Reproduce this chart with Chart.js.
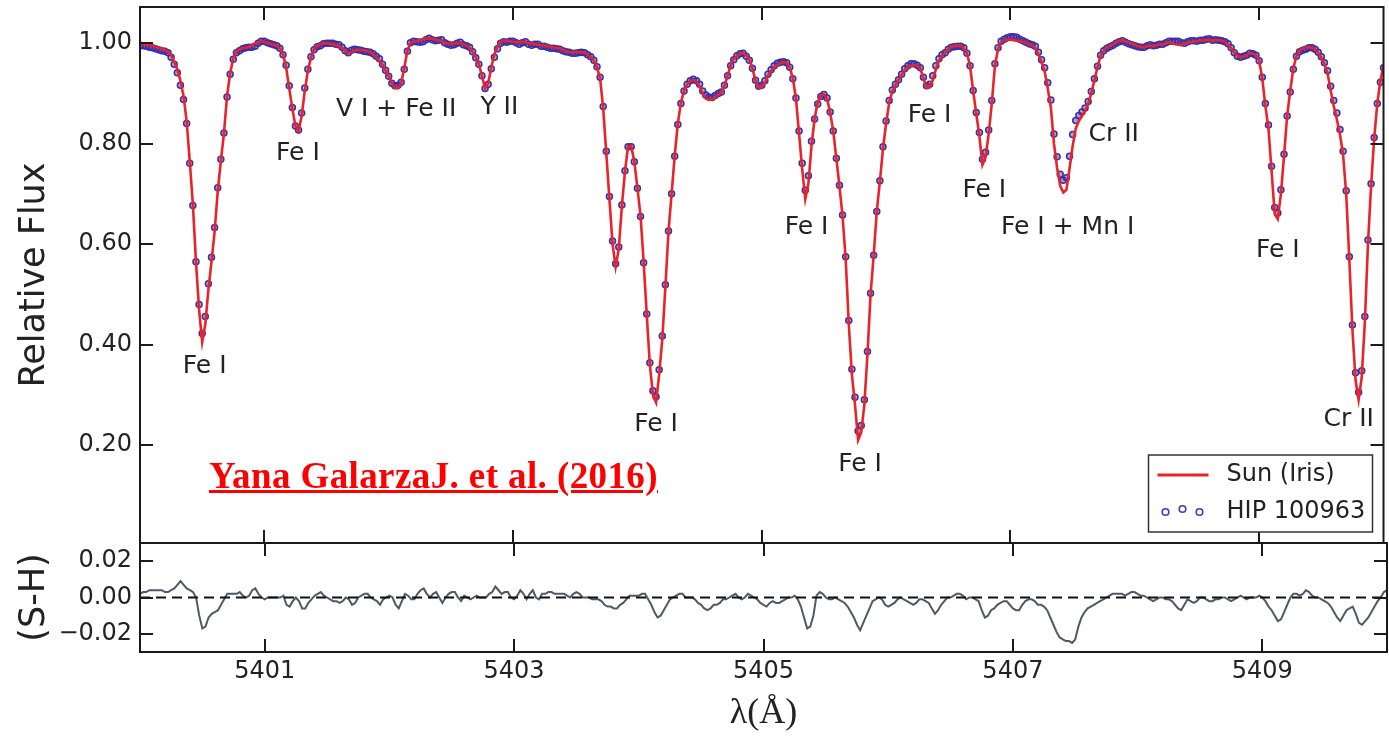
<!DOCTYPE html>
<html><head><meta charset="utf-8">
<script src="https://cdn.jsdelivr.net/npm/chart.js@4.4.1/dist/chart.umd.min.js"></script>
<style>
html,body{margin:0;padding:0;background:#fff;}
#wrap{position:relative;width:1389px;height:739px;overflow:hidden;background:#fff;}
canvas{position:absolute;left:0;top:0;}
#credit{position:absolute;left:209px;top:457px;font:bold 37px "Liberation Serif",serif;line-height:1;color:#ff0000;text-decoration:underline;white-space:nowrap;letter-spacing:0.4px;}
</style></head>
<body><div id="wrap">
<canvas id="topc" width="1389" height="739"></canvas>
<canvas id="botc" width="1389" height="739"></canvas>
<div id="credit">Yana GalarzaJ. et al. (2016)</div>
</div>
<script>
// Sampling grid of the spectrum (Angstrom)
const LAMBDA_START = 5400.0;
const LAMBDA_STEP = 0.025;

// Sun (Iris) relative flux, one value per grid step
const SUN_FLUX = [
.998,.998,.997,.996,.995,.993,.991,.989,.987,.984,.976,.963,.948,.925,.895,.845,.765,.68,.565,.47,
.405,.44,.51,.565,.625,.705,.765,.82,.895,.94,.97,.983,.988,.99,.991,.993,.996,.999,1.002,1.004,
1.003,1.001,.999,.997,.995,.99,.978,.952,.91,.87,.835,.825,.855,.905,.945,.972,.988,.995,.998,1.0,
1.0,.999,.998,.996,.994,.99,.985,.98,.982,.985,.987,.987,.986,.985,.982,.978,.972,.965,.957,.946,
.935,.92,.911,.91,.92,.95,.985,1.0,1.003,1.005,1.006,1.008,1.009,1.01,1.009,1.008,1.006,1.004,1.001,1.0,
.999,1.0,1.0,1.0,.998,.995,.991,.983,.972,.958,.935,.91,.92,.952,.978,.993,1.002,1.006,1.005,1.004,
1.003,1.002,1.002,1.003,1.002,1.0,1.0,.998,.997,.996,.996,.995,.993,.992,.991,.99,.987,.984,.982,.982,
.983,.983,.982,.981,.977,.972,.965,.952,.93,.87,.78,.69,.60,.555,.59,.675,.745,.795,.795,.765,
.712,.657,.565,.46,.36,.30,.285,.34,.41,.515,.625,.70,.776,.84,.882,.905,.918,.925,.927,.922,
.914,.899,.89,.887,.888,.892,.897,.902,.915,.935,.956,.969,.975,.978,.98,.976,.967,.95,.925,.911,
.912,.92,.935,.945,.952,.957,.96,.962,.961,.952,.93,.89,.82,.75,.69,.72,.795,.85,.882,.896,
.898,.89,.862,.825,.77,.715,.655,.57,.44,.34,.28,.21,.225,.28,.38,.50,.577,.665,.725,.79,
.84,.882,.904,.917,.927,.937,.947,.952,.955,.956,.955,.95,.93,.912,.912,.926,.948,.965,.975,.981,
.988,.993,.995,.996,.995,.99,.98,.955,.905,.86,.815,.758,.773,.82,.88,.955,.988,1.002,1.006,1.007,
1.007,1.006,1.005,1.004,1.003,1.001,.998,.995,.99,.978,.962,.944,.91,.872,.80,.752,.716,.703,.708,.75,
.795,.83,.845,.855,.865,.879,.9,.926,.952,.975,.985,.991,.995,.998,1.002,1.005,1.006,1.004,1.002,1.0,
.997,.994,.993,.992,.994,.995,.994,.996,.998,.997,1.0,1.002,1.0,.998,.997,.997,.999,1.001,1.002,1.003,
1.004,1.006,1.005,1.006,1.007,1.005,1.006,1.006,1.005,1.002,.997,.99,.981,.975,.972,.973,.976,.98,.979,.977,
.965,.93,.875,.83,.745,.66,.65,.70,.775,.855,.905,.95,.975,.985,.99,.991,.992,.991,.988,.981,
.971,.958,.94,.906,.875,.848,.818,.778,.70,.57,.43,.33,.29,.335,.445,.60,.715,.81,.88,.925,.955
];

// HIP 100963 relative flux, same grid
const HIP_FLUX = [
.996,.995,.994,.992,.991,.989,.987,.985,.984,.981,.972,.958,.941,.916,.888,.84,.761,.677,.565,.48,
.422,.456,.521,.574,.633,.712,.769,.821,.893,.938,.968,.981,.985,.989,.991,.992,.992,.994,1.0,1.004,
1.004,1.001,.999,.997,.995,.99,.977,.956,.915,.872,.835,.827,.861,.911,.948,.973,.987,.993,.995,.999,
1.0,1.0,1.0,.998,.997,.992,.985,.981,.986,.988,.987,.986,.984,.983,.982,.979,.974,.969,.958,.946,
.934,.92,.915,.916,.922,.948,.984,1.001,1.004,1.003,1.002,1.003,1.007,1.01,1.007,1.005,1.006,1.007,1.001,.998,
.996,.997,1.0,1.002,.997,.995,.992,.983,.971,.958,.935,.91,.918,.949,.972,.989,1.0,1.003,1.002,1.004,
1.004,1.001,.998,1.001,1.003,.998,.996,.998,.998,.994,.994,.992,.99,.99,.989,.988,.985,.983,.982,.98,
.98,.981,.982,.981,.977,.973,.966,.953,.932,.874,.785,.695,.606,.561,.594,.678,.746,.794,.794,.764,
.711,.655,.563,.461,.364,.308,.296,.35,.417,.519,.626,.70,.775,.838,.88,.905,.918,.925,.928,.925,
.918,.905,.897,.893,.892,.896,.9,.903,.916,.935,.955,.967,.975,.979,.98,.974,.966,.95,.926,.914,
.916,.925,.938,.947,.955,.96,.962,.963,.961,.952,.929,.891,.825,.761,.707,.736,.805,.849,.879,.894,
.898,.891,.863,.825,.771,.717,.658,.575,.448,.351,.295,.228,.239,.29,.386,.502,.578,.665,.726,.794,
.845,.886,.907,.918,.927,.938,.949,.955,.959,.959,.956,.951,.932,.915,.918,.935,.955,.969,.977,.981,
.988,.992,.993,.994,.994,.991,.98,.955,.906,.862,.822,.769,.783,.827,.886,.959,.991,1.004,1.008,1.011,
1.013,1.013,1.012,1.008,1.005,1.002,.999,.997,.994,.982,.967,.951,.921,.887,.819,.774,.739,.727,.732,.775,
.818,.846,.856,.863,.871,.884,.904,.929,.954,.976,.985,.99,.993,.996,1.0,1.003,1.005,1.002,.999,.997,
.995,.993,.992,.992,.995,.997,.995,.996,.998,.998,1.001,1.004,1.004,1.004,1.004,1.001,1.0,1.003,1.005,1.005,
1.004,1.006,1.006,1.008,1.009,1.006,1.007,1.006,1.005,1.003,.999,.991,.981,.974,.972,.974,.976,.98,.979,.976,
.965,.932,.88,.837,.755,.673,.662,.708,.779,.855,.903,.948,.974,.983,.986,.988,.991,.991,.988,.982,
.973,.961,.945,.914,.886,.861,.828,.785,.706,.575,.439,.344,.305,.348,.456,.608,.72,.812,.88,.922,.951
];

// Residual (S-H), same grid
const RESIDUAL = [
.002,.003,.003,.004,.004,.004,.004,.004,.003,.003,.004,.005,.007,.009,.007,.005,.004,.003,0,-.010,
-.017,-.016,-.011,-.009,-.008,-.007,-.004,-.001,.002,.002,.002,.002,.003,.001,0,.001,.004,.005,.002,0,
-.001,0,0,0,0,0,.001,-.004,-.005,-.002,0,-.002,-.006,-.006,-.003,-.001,.001,.002,.003,.001,
0,-.001,-.002,-.002,-.003,-.002,0,-.001,-.004,-.003,0,.001,.002,.002,0,-.001,-.002,-.004,-.001,0,
.001,0,-.004,-.006,-.002,.002,.001,-.001,-.001,.002,.004,.005,.002,0,.002,.003,0,-.003,0,.002,
.003,.003,0,-.002,.001,0,-.001,0,.001,0,0,0,.002,.003,.006,.004,.002,.003,.003,0,
-.001,.001,.004,.002,-.001,.002,.004,0,-.001,.002,.002,.003,.003,.002,.002,.002,.002,.001,0,.002,
.003,.002,0,0,0,-.001,-.001,-.001,-.002,-.004,-.005,-.005,-.006,-.006,-.004,-.003,-.001,.001,.001,.001,
.001,.002,.002,-.001,-.004,-.008,-.011,-.010,-.007,-.004,-.001,0,.001,.002,.002,0,0,0,-.001,-.003,
-.004,-.006,-.007,-.006,-.004,-.004,-.003,-.001,-.001,0,.001,.002,0,-.001,0,.002,.001,0,-.001,-.003,
-.004,-.005,-.003,-.002,-.003,-.003,-.002,-.001,0,0,.001,-.001,-.005,-.011,-.017,-.016,-.010,.001,.003,.002,
0,-.001,-.001,0,-.001,-.002,-.003,-.005,-.008,-.011,-.015,-.018,-.014,-.010,-.006,-.002,-.001,0,-.001,-.004,
-.005,-.004,-.003,-.001,0,-.001,-.002,-.003,-.004,-.003,-.001,-.001,-.002,-.003,-.006,-.009,-.007,-.004,-.002,0,
0,.001,.002,.002,.001,-.001,0,0,-.001,-.002,-.007,-.011,-.010,-.007,-.006,-.004,-.003,-.002,-.002,-.004,
-.006,-.007,-.007,-.004,-.002,-.001,-.001,-.002,-.004,-.004,-.005,-.007,-.011,-.015,-.019,-.022,-.023,-.024,-.024,-.025,
-.023,-.016,-.011,-.008,-.006,-.005,-.004,-.003,-.002,-.001,0,.001,.002,.002,.002,.002,.001,.002,.003,.003,
.002,.001,.001,0,-.001,-.002,-.001,0,0,-.001,-.001,-.002,-.004,-.006,-.007,-.004,-.001,-.002,-.003,-.002,
0,0,-.001,-.002,-.002,-.001,-.001,0,0,-.001,-.002,-.001,0,.001,0,-.001,0,0,0,.001,
0,-.002,-.005,-.007,-.010,-.013,-.012,-.008,-.004,0,.002,.002,.001,.002,.004,.003,.001,0,0,-.001,
-.002,-.003,-.005,-.008,-.011,-.013,-.010,-.007,-.006,-.005,-.009,-.014,-.015,-.013,-.011,-.008,-.005,-.002,0,.003,.004
];

const X_TICKS = [5401, 5403, 5405, 5407, 5409];
const FLUX_TICKS = [0.2, 0.4, 0.6, 0.8, 1.0];
const RESID_TICKS = [-0.02, 0, 0.02];

// Line identifications (label, wavelength, flux of label centre)
const LINE_LABELS = ['Fe I','Fe I','V I + Fe II','Y II','Fe I','Fe I','Fe I','Fe I','Fe I','Fe I + Mn I','Cr II','Fe I','Cr II'];
const LINE_LAMBDA = [5400.52,5401.27,5402.06,5402.89,5404.15,5405.36,5405.79,5406.35,5406.79,5407.46,5407.83,5409.15,5409.72];
const LINE_FLUX   = [0.357,0.781,0.867,0.871,0.240,0.634,0.162,0.857,0.707,0.634,0.819,0.588,0.250];

const WAVELENGTH = SUN_FLUX.map((_, i) => +(LAMBDA_START + i * LAMBDA_STEP).toFixed(3));
const toPts = arr => arr.map((v, i) => ({x: WAVELENGTH[i], y: v}));

const TXT = '#222';
const SANS = 'DejaVu Sans';

function framePlugin(xt, yt) {
  return {
    id: 'frameTicks',
    afterDraw(chart) {
      const {ctx, chartArea: a, scales: {x, y}} = chart;
      ctx.save();
      ctx.strokeStyle = '#1a1a1a';
      ctx.lineWidth = 2;
      ctx.strokeRect(a.left, a.top, a.right - a.left, a.bottom - a.top);
      const L = 13;
      ctx.beginPath();
      xt.forEach(v => {
        const px = Math.round(x.getPixelForValue(v));
        ctx.moveTo(px, a.top); ctx.lineTo(px, a.top + L);
        ctx.moveTo(px, a.bottom); ctx.lineTo(px, a.bottom - L);
      });
      yt.forEach(v => {
        const py = Math.round(y.getPixelForValue(v));
        ctx.moveTo(a.left, py); ctx.lineTo(a.left + L, py);
        ctx.moveTo(a.right, py); ctx.lineTo(a.right - L, py);
      });
      ctx.stroke();
      ctx.restore();
    }
  };
}

const labelPlugin = {
  id: 'lineLabels',
  afterDatasetsDraw(chart) {
    const {ctx, scales: {x, y}} = chart;
    ctx.save();
    ctx.font = '25px "' + SANS + '"';
    ctx.fillStyle = TXT;
    ctx.textAlign = 'center';
    ctx.textBaseline = 'middle';
    LINE_LABELS.forEach((t, i) => ctx.fillText(t, x.getPixelForValue(LINE_LAMBDA[i]), y.getPixelForValue(LINE_FLUX[i])));
    ctx.restore();
  }
};

const legendPlugin = {
  id: 'boxLegend',
  afterDraw(chart) {
    const {ctx, chartArea: a} = chart;
    const ds = chart.data.datasets;
    const w = 224, h = 77, x0 = a.right - 11 - w, y0 = a.bottom - 11 - h;
    ctx.save();
    ctx.fillStyle = '#fff'; ctx.fillRect(x0, y0, w, h);
    ctx.strokeStyle = '#333'; ctx.lineWidth = 1.5; ctx.strokeRect(x0, y0, w, h);
    ctx.strokeStyle = ds[0].borderColor; ctx.lineWidth = 2.8;
    ctx.beginPath(); ctx.moveTo(x0 + 9, y0 + 20); ctx.lineTo(x0 + 60, y0 + 20); ctx.stroke();
    ctx.strokeStyle = '#3a3ac8'; ctx.lineWidth = 1.6;
    [[17, 57], [34, 54], [51, 57]].forEach(([dx, dy]) => { ctx.beginPath(); ctx.arc(x0 + dx, y0 + dy, 3.3, 0, Math.PI * 2); ctx.stroke(); });
    ctx.fillStyle = TXT; ctx.font = '24px "' + SANS + '"'; ctx.textBaseline = 'middle'; ctx.textAlign = 'left';
    ctx.fillText(ds[0].label, x0 + 78, y0 + 20);
    ctx.fillText(ds[1].label, x0 + 78, y0 + 57);
    ctx.restore();
  }
};

const zeroPlugin = {
  id: 'zeroLine',
  afterDatasetsDraw(chart) {
    const {ctx, chartArea: a, scales: {y}} = chart;
    const py = y.getPixelForValue(0);
    ctx.save();
    ctx.strokeStyle = '#111'; ctx.lineWidth = 2; ctx.setLineDash([10, 6]);
    ctx.beginPath(); ctx.moveTo(a.left, py); ctx.lineTo(a.right, py); ctx.stroke();
    ctx.restore();
  }
};

const commonOpts = {
  responsive: false, animation: false, events: [],
  plugins: {legend: {display: false}, tooltip: {enabled: false}}
};

function fixY(s) { s.width = 140; s.paddingTop = 0; s.paddingBottom = 0; }

new Chart(document.getElementById('topc'), {
  type: 'scatter',
  data: {datasets: [
    {label: 'Sun (Iris)', data: toPts(SUN_FLUX), showLine: true, borderColor: '#e8232a', borderWidth: 2.6, pointRadius: 0, tension: 0, order: 0},
    {label: 'HIP 100963', data: toPts(HIP_FLUX), showLine: false, pointRadius: 3, pointBorderWidth: 1.5, pointBorderColor: '#3430b0', pointBackgroundColor: 'rgba(90,40,140,0.45)', order: 1}
  ]},
  options: Object.assign({}, commonOpts, {
    layout: {padding: {left: 0, top: 7, right: 2, bottom: 196}},
    scales: {
      x: {type: 'linear', min: 5400, max: 5410, display: false},
      y: {
        min: 0.005, max: 1.072,
        afterFit: fixY,
        afterBuildTicks: s => { s.ticks = FLUX_TICKS.map(v => ({value: v})); },
        grid: {display: false, drawTicks: false}, border: {display: false},
        ticks: {font: {family: SANS, size: 24}, color: TXT, padding: 8, callback: v => v.toFixed(2)},
        title: {display: true, text: 'Relative Flux', font: {family: SANS, size: 35}, color: TXT, padding: {top: 14, bottom: 0}}
      }
    }
  }),
  plugins: [framePlugin(X_TICKS, FLUX_TICKS), labelPlugin, legendPlugin]
});

new Chart(document.getElementById('botc'), {
  type: 'scatter',
  data: {datasets: [
    {label: '(S-H)', data: toPts(RESIDUAL), showLine: true, borderColor: '#4e5a64', borderWidth: 2, pointRadius: 0, tension: 0}
  ]},
  options: Object.assign({}, commonOpts, {
    layout: {padding: {left: 0, top: 543, right: 2, bottom: 0}},
    scales: {
      x: {
        type: 'linear', min: 5400, max: 5410, position: 'bottom',
        afterFit: s => { s.height = 87; },
        afterBuildTicks: s => { s.ticks = X_TICKS.map(v => ({value: v})); },
        grid: {display: false, drawTicks: false}, border: {display: false},
        ticks: {font: {family: SANS, size: 24}, color: TXT, padding: 5, maxRotation: 0, autoSkip: false, callback: v => String(v)},
        title: {display: true, text: 'λ(Å)', font: {family: 'Liberation Serif', size: 36}, color: TXT, padding: {top: 0, bottom: 4}}
      },
      y: {
        min: -0.03, max: 0.03,
        afterFit: fixY,
        afterBuildTicks: s => { s.ticks = RESID_TICKS.map(v => ({value: v})); },
        grid: {display: false, drawTicks: false}, border: {display: false},
        ticks: {font: {family: SANS, size: 24}, color: TXT, padding: 8, callback: v => (v < 0 ? '\u2212' : '') + Math.abs(v).toFixed(2)},
        title: {display: true, text: '(S-H)', font: {family: SANS, size: 35}, color: TXT, padding: {top: 14, bottom: 0}}
      }
    }
  }),
  plugins: [framePlugin(X_TICKS, RESID_TICKS), zeroPlugin]
});
</script>
</body></html>
